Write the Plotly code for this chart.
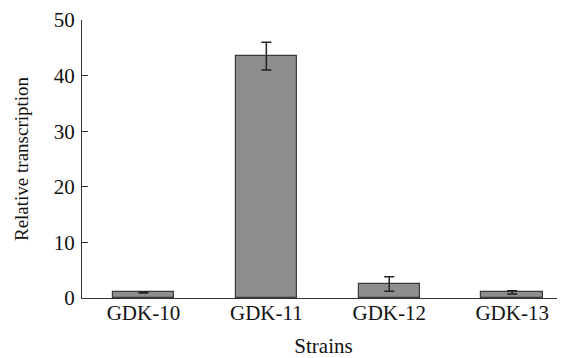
import plotly.graph_objects as go

strains = ["GDK-10", "GDK-11", "GDK-12", "GDK-13"]
values = [1.0, 43.5, 2.5, 1.0]
errors = [0.1, 2.5, 1.3, 0.3]
y_ticks = [0, 10, 20, 30, 40, 50]

font = "Liberation Serif, Times New Roman, serif"

fig = go.Figure(go.Bar(
    x=list(range(len(strains))), y=values,
    width=0.5,
    marker=dict(color="#8e8e90", line=dict(color="#3a3a3a", width=1.2)),
    error_y=dict(type="data", array=errors, visible=True, color="#222222", thickness=1.5, width=5),
))

fig.update_layout(
    width=557, height=350,
    margin=dict(l=74, r=0, t=12, b=60),
    plot_bgcolor="white", paper_bgcolor="white",
    font=dict(family=font, size=21, color="#111111"),
    showlegend=False,
    bargap=0,
)
fig.update_xaxes(
    tickmode="array", tickvals=list(range(len(strains))), ticktext=strains,
    range=[-0.5, 3.43], showline=True, linecolor="#333333", linewidth=1.2,
    ticks="", showgrid=False, zeroline=False, automargin=False,
    ticklabelstandoff=-4,
    title=dict(text="Strains", standoff=18, font=dict(size=21)),
    tickfont=dict(size=21),
)
fig.update_yaxes(
    range=[0, 50], tickvals=y_ticks, showline=True, linecolor="#333333", linewidth=1.2,
    ticks="inside", ticklen=6, tickwidth=1.2, tickcolor="#333333", showgrid=False, zeroline=False,
    automargin=False, ticklabelstandoff=2,
    title=dict(text="Relative transcription", standoff=20, font=dict(size=19)),
    tickfont=dict(size=21),
)

fig.write_html("out.html")
